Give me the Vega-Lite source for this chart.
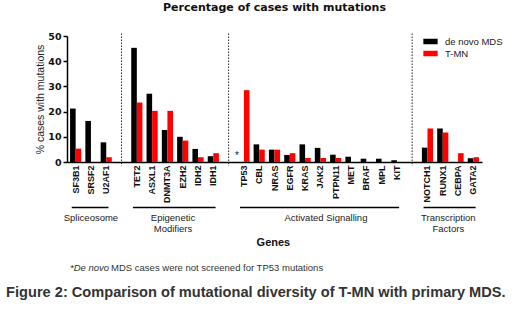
{
  "$schema": "https://vega.github.io/schema/vega-lite/v6.json",
  "width": 415,
  "height": 126,
  "autosize": {"type": "none"},
  "padding": {"left": 67, "top": 36, "right": 38, "bottom": 152},
  "background": "white",
  "title": {"text": "Percentage of cases with mutations", "font": "DejaVu Sans", "fontSize": 11, "fontWeight": "bold", "color": "#111", "anchor": "middle", "offset": 18},
  "config": {
    "view": {"stroke": null},
    "axis": {"grid": false},
    "axisY": {"tickCount": 6, "labelOverlap": false, "labelFlush": false, "domainColor": "#000", "domainWidth": 1.5, "tickColor": "#000", "tickWidth": 1.5, "tickSize": 4, "labelFont": "DejaVu Sans", "labelFontWeight": "bold", "labelFontSize": 9.5, "labelColor": "#111", "labelPadding": 2, "titleFont": "Liberation Sans", "titleFontSize": 10.5, "titleFontWeight": "normal", "titleColor": "#222", "titlePadding": 2},
    "axisX": {"labelAngle": -90, "labelAlign": "right", "labelBaseline": "middle", "labelFont": "Liberation Sans Narrow, Liberation Sans", "labelFontWeight": "bold", "labelFontSize": 9, "labelColor": "#111", "labelPadding": 3, "labelOverlap": false, "ticks": false, "domainColor": "#000", "domainWidth": 1.5}
  },
  "datasets": {
    "bars": [
      {"gene": "SF3B1", "series": "de novo MDS", "value": 21.2}, {"gene": "SF3B1", "series": "T-MN", "value": 5.3},
      {"gene": "SRSF2", "series": "de novo MDS", "value": 16.3}, {"gene": "SRSF2", "series": "T-MN", "value": 0},
      {"gene": "U2AF1", "series": "de novo MDS", "value": 7.8}, {"gene": "U2AF1", "series": "T-MN", "value": 1.9},
      {"gene": "TET2", "series": "de novo MDS", "value": 45.3}, {"gene": "TET2", "series": "T-MN", "value": 23.6},
      {"gene": "ASXL1", "series": "de novo MDS", "value": 27.1}, {"gene": "ASXL1", "series": "T-MN", "value": 20.3},
      {"gene": "DNMT3A", "series": "de novo MDS", "value": 12.7}, {"gene": "DNMT3A", "series": "T-MN", "value": 20.3},
      {"gene": "EZH2", "series": "de novo MDS", "value": 10.0}, {"gene": "EZH2", "series": "T-MN", "value": 8.5},
      {"gene": "IDH2", "series": "de novo MDS", "value": 5.2}, {"gene": "IDH2", "series": "T-MN", "value": 1.9},
      {"gene": "IDH1", "series": "de novo MDS", "value": 2.3}, {"gene": "IDH1", "series": "T-MN", "value": 3.5},
      {"gene": "TP53", "series": "T-MN", "value": 28.5},
      {"gene": "CBL", "series": "de novo MDS", "value": 7.0}, {"gene": "CBL", "series": "T-MN", "value": 4.9},
      {"gene": "NRAS", "series": "de novo MDS", "value": 4.9}, {"gene": "NRAS", "series": "T-MN", "value": 4.9},
      {"gene": "EGFR", "series": "de novo MDS", "value": 2.8}, {"gene": "EGFR", "series": "T-MN", "value": 3.5},
      {"gene": "KRAS", "series": "de novo MDS", "value": 7.0}, {"gene": "KRAS", "series": "T-MN", "value": 1.6},
      {"gene": "JAK2", "series": "de novo MDS", "value": 5.6}, {"gene": "JAK2", "series": "T-MN", "value": 1.6},
      {"gene": "PTPN11", "series": "de novo MDS", "value": 2.9}, {"gene": "PTPN11", "series": "T-MN", "value": 1.6},
      {"gene": "MET", "series": "de novo MDS", "value": 2.1}, {"gene": "MET", "series": "T-MN", "value": 0},
      {"gene": "BRAF", "series": "de novo MDS", "value": 1.3}, {"gene": "BRAF", "series": "T-MN", "value": 0},
      {"gene": "MPL", "series": "de novo MDS", "value": 1.3}, {"gene": "MPL", "series": "T-MN", "value": 0},
      {"gene": "KIT", "series": "de novo MDS", "value": 0.7}, {"gene": "KIT", "series": "T-MN", "value": 0},
      {"gene": "NOTCH1", "series": "de novo MDS", "value": 5.7}, {"gene": "NOTCH1", "series": "T-MN", "value": 13.3},
      {"gene": "RUNX1", "series": "de novo MDS", "value": 13.3}, {"gene": "RUNX1", "series": "T-MN", "value": 11.7},
      {"gene": "CEBPA", "series": "de novo MDS", "value": 0}, {"gene": "CEBPA", "series": "T-MN", "value": 3.5},
      {"gene": "GATA2", "series": "de novo MDS", "value": 1.5}, {"gene": "GATA2", "series": "T-MN", "value": 1.9}
    ],
    "gaps": [{"gene": "gap1"}, {"gene": "gap2"}, {"gene": "gap3"}],
    "groups": [
      {"label": ["Spliceosome"], "start": "SF3B1", "end": "U2AF1", "mid": "SRSF2"},
      {"label": ["Epigenetic", "Modifiers"], "start": "TET2", "end": "IDH1", "mid": "DNMT3A"},
      {"label": ["Activated  Signalling"], "start": "TP53", "end": "KIT", "mid": "JAK2"},
      {"label": ["Transcription", "Factors"], "start": "NOTCH1", "end": "GATA2", "mid": "RUNX1"}
    ],
    "notes": [{"star": "*", "genes": "Genes", "fn1": "*De novo", "fn2": "MDS cases were not screened for TP53 mutations", "caption": "Figure 2: Comparison of mutational diversity of T-MN with primary MDS."}]
  },
  "layer": [
    {
      "data": {"name": "bars"},
      "mark": {"type": "bar"},
      "encoding": {
        "x": {
          "field": "gene", "type": "nominal", "sort": null,
          "scale": {"domain": ["SF3B1", "SRSF2", "U2AF1", "gap1", "TET2", "ASXL1", "DNMT3A", "EZH2", "IDH2", "IDH1", "gap2", "TP53", "CBL", "NRAS", "EGFR", "KRAS", "JAK2", "PTPN11", "MET", "BRAF", "MPL", "KIT", "gap3", "NOTCH1", "RUNX1", "CEBPA", "GATA2"], "paddingInner": 0.27, "paddingOuter": 0.2},
          "axis": {"title": null, "labelExpr": "indexof(datum.value, 'gap') == 0 ? '' : datum.value"}
        },
        "xOffset": {"field": "series", "type": "nominal", "scale": {"domain": ["de novo MDS", "T-MN"]}},
        "y": {
          "field": "value", "type": "quantitative",
          "scale": {"domain": [0, 50], "nice": false},
          "axis": {"title": "% cases with mutations"}
        },
        "color": {
          "field": "series", "type": "nominal",
          "scale": {"domain": ["de novo MDS", "T-MN"], "range": ["#000000", "#ff0000"]},
          "legend": {"title": null, "orient": "none", "legendX": 358, "legendY": 0, "symbolType": "M-1.3,-0.5H1.3V0.5H-1.3Z", "symbolSize": 121, "symbolStrokeWidth": 0, "labelFont": "Liberation Sans", "labelFontSize": 9.5, "labelColor": "#222", "labelOffset": 9, "rowPadding": 2}
        }
      }
    },
    {
      "data": {"name": "gaps"},
      "mark": {"type": "rule", "strokeDash": [1.5, 1.5], "color": "#222", "strokeWidth": 1},
      "encoding": {
        "x": {"field": "gene", "type": "nominal"},
        "y": {"datum": 51, "type": "quantitative"},
        "y2": {"datum": -1.5}
      }
    },
    {
      "data": {"name": "groups"},
      "mark": {"type": "rule", "color": "#000", "strokeWidth": 1.5},
      "encoding": {
        "x": {"field": "start", "type": "nominal", "bandPosition": 0.15},
        "x2": {"field": "end", "bandPosition": 0.7},
        "y": {"datum": -18.1, "type": "quantitative"}
      }
    },
    {
      "data": {"name": "groups"},
      "transform": [{"filter": "datum.start == 'SF3B1'"}],
      "mark": {"type": "text", "font": "Liberation Sans", "fontSize": 9.5, "color": "#222", "baseline": "top", "align": "center", "lineHeight": 10.5},
      "encoding": {
        "x": {"field": "mid", "type": "nominal", "bandPosition": 0.5},
        "y": {"datum": -20.3, "type": "quantitative"},
        "text": {"field": "label"}
      }
    },
    {
      "data": {"name": "groups"},
      "transform": [{"filter": "datum.start != 'SF3B1'"}],
      "mark": {"type": "text", "font": "Liberation Sans", "fontSize": 9.5, "color": "#222", "baseline": "top", "align": "center", "lineHeight": 10.5},
      "encoding": {
        "x": {"field": "mid", "type": "nominal", "bandPosition": 1},
        "y": {"datum": -20.3, "type": "quantitative"},
        "text": {"field": "label"}
      }
    },
    {
      "data": {"name": "notes"},
      "mark": {"type": "text", "font": "Liberation Sans", "fontSize": 10, "color": "#222", "baseline": "middle", "align": "center", "dx": -7},
      "encoding": {
        "x": {"datum": "TP53"},
        "y": {"datum": 2.5, "type": "quantitative"},
        "text": {"field": "star"}
      }
    },
    {
      "data": {"name": "notes"},
      "mark": {"type": "text", "font": "Liberation Sans", "fontSize": 11, "fontWeight": "bold", "color": "#111", "baseline": "middle", "align": "center"},
      "encoding": {
        "x": {"datum": "NRAS", "bandPosition": 0.4},
        "y": {"datum": -32.1, "type": "quantitative"},
        "text": {"field": "genes"}
      }
    },
    {
      "data": {"name": "notes"},
      "mark": {"type": "text", "font": "Liberation Sans", "fontSize": 9.5, "fontStyle": "italic", "color": "#333", "baseline": "middle", "align": "left"},
      "encoding": {
        "x": {"datum": "SF3B1", "bandPosition": 0},
        "y": {"datum": -42.2, "type": "quantitative"},
        "text": {"field": "fn1"}
      }
    },
    {
      "data": {"name": "notes"},
      "mark": {"type": "text", "font": "Liberation Sans", "fontSize": 9.5, "color": "#333", "baseline": "middle", "align": "left", "dx": 41},
      "encoding": {
        "x": {"datum": "SF3B1", "bandPosition": 0},
        "y": {"datum": -42.2, "type": "quantitative"},
        "text": {"field": "fn2"}
      }
    },
    {
      "data": {"name": "notes"},
      "mark": {"type": "text", "font": "Liberation Sans", "fontSize": 14.6, "fontWeight": "bold", "color": "#333", "baseline": "middle", "align": "center"},
      "encoding": {
        "x": {"datum": "CBL", "bandPosition": 0.2},
        "y": {"datum": -52, "type": "quantitative"},
        "text": {"field": "caption"}
      }
    }
  ]
}
